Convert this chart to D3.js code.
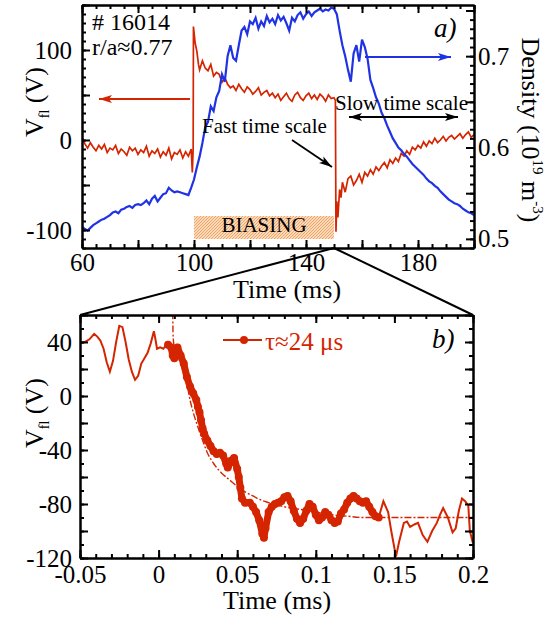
<!DOCTYPE html>
<html lang="en">
<head>
<meta charset="UTF-8">
<title>Floating potential and density during biasing</title>
<script src="https://d3js.org/d3.v7.min.js"></script>
<style>
  body { margin: 0; background: #fff; }
  svg text { font-family: "Liberation Serif", "Times New Roman", serif; fill: #000; }
  .axis path, .axis line { stroke: #000; stroke-width: 2; }
  .axis text { font-size: 25px; }
</style>
</head>
<body>
<div id="chart"></div>
<script>
// ---- data: panel a) (time in ms) ----
const vflSlow = [
  [60,3],[61,-4],[62,-9],[63,-3],[64,-8],[65,-12],[66,-6],[67,-10],[68,-5],[69,-14],
  [70,-9],[71,-11],[72,-6],[73,-15],[74,-10],[75,-13],[76,-17],[77,-8],[78,-12],[79,-9],
  [80,-16],[81,-11],[82,-14],[83,-7],[84,-18],[85,-12],[86,-15],[87,-10],[88,-19],[89,-13],
  [90,-17],[91,-9],[92,-21],[93,-14],[94,-16],[95,-11],[96,-20],[97,-13],[98,-18],[99,-10],
  [99.4,-36],[99.7,-10],[99.8,126],[100.4,108],[101,99],[101.6,84],[102,78],[103,88],[104,80],[105,77],
  [106,84],[107,71],[108,75],[109,73],[110,64],[111,69],[112,62],[113,58],[114,60],[115,55],
  [116,62],[117,57],[118,53],[119,59],[120,56],[121,51],[122,54],[123,58],[124,50],[125,53],
  [126,55],[127,49],[128,52],[129,47],[130,51],[131,44],[132,48],[133,52],[134,46],[135,43],
  [136,50],[137,53],[138,47],[139,44],[140,49],[141,52],[142,46],[143,50],[144,45],[145,51],
  [146,48],[147,43],[148,50],[149,46],[150,47],[150.5,44],[150.7,-102],[151,-68],[151.4,-86],[152,-55],
  [152.5,-64],[153,-47],[154,-58],[155,-43],[156,-40],[157,-50],[158,-45],[159,-38],[160,-47],[161,-36],
  [162,-40],[163,-33],[164,-38],[165,-30],[166,-34],[167,-29],[168,-25],[169,-31],[170,-22],[171,-26],
  [172,-20],[173,-24],[174,-15],[175,-18],[176,-12],[177,-16],[178,-8],[179,-11],[180,-6],[181,-9],
  [182,-2],[183,-7],[184,-1],[185,-4],[186,2],[187,-3],[188,0],[189,4],[190,-1],[191,3],
  [192,5],[193,1],[194,4],[195,7],[196,2],[197,6],[198,9],[199,3],[200,6]
];
const density = [
  [60,0.513],[61,0.511],[62,0.509],[63,0.512],[64,0.515],[65,0.517],[66,0.519],[67,0.521],[68,0.522],[69,0.524],
  [70,0.526],[71,0.529],[72,0.530],[73,0.528],[74,0.532],[75,0.533],[76,0.535],[77,0.536],[78,0.534],[79,0.537],
  [80,0.538],[81,0.537],[82,0.539],[83,0.542],[84,0.538],[85,0.544],[86,0.547],[87,0.541],[88,0.545],[89,0.549],
  [90,0.550],[91,0.556],[92,0.553],[93,0.551],[94,0.552],[95,0.551],[96,0.550],[97,0.549],[98,0.548],[99,0.556],
  [100,0.565],[101,0.578],[102,0.590],[103,0.605],[104,0.622],[105,0.628],[106,0.645],[107,0.640],[108,0.655],[109,0.662],
  [110,0.680],[111,0.672],[112,0.700],[113,0.712],[114,0.698],[115,0.695],[116,0.712],[117,0.728],[118,0.732],[119,0.724],
  [120,0.738],[121,0.735],[122,0.742],[123,0.730],[124,0.738],[125,0.733],[126,0.744],[127,0.737],[128,0.741],[129,0.735],
  [130,0.745],[131,0.739],[132,0.743],[133,0.736],[134,0.728],[135,0.742],[136,0.738],[137,0.745],[138,0.748],[139,0.741],
  [140,0.746],[141,0.749],[142,0.744],[143,0.748],[144,0.750],[145,0.752],[146,0.749],[147,0.751],[148,0.750],[149,0.753],
  [150,0.752],[151,0.746],[152,0.728],[153,0.712],[154,0.700],[155,0.685],[156,0.672],[157,0.703],[158,0.712],[159,0.694],
  [160,0.718],[161,0.710],[162,0.697],[163,0.674],[164,0.665],[165,0.655],[166,0.648],[167,0.638],[168,0.632],[169,0.624],
  [170,0.617],[171,0.610],[172,0.605],[173,0.600],[174,0.597],[175,0.593],[176,0.590],[177,0.586],[178,0.582],[179,0.579],
  [180,0.576],[181,0.573],[182,0.570],[183,0.566],[184,0.563],[185,0.561],[186,0.558],[187,0.556],[188,0.552],[189,0.549],
  [190,0.546],[191,0.543],[192,0.541],[193,0.539],[194,0.538],[195,0.536],[196,0.533],[197,0.531],[198,0.529],[199,0.528],
  [200,0.526]
];

// ---- data: panel b) (time in ms) ----
const vflBefore = [
  [-0.050,39],[-0.047,40],[-0.044,42],[-0.041,46],[-0.039,44],[-0.037,41],[-0.035,35],[-0.033,25],[-0.031,18],[-0.029,26],
  [-0.027,40],[-0.025,52],[-0.023,51],[-0.021,40],[-0.019,27],[-0.017,18],[-0.015,12],[-0.013,15],[-0.011,24],[-0.009,28],
  [-0.007,32],[-0.005,39],[-0.003,48],[-0.002,42],[-0.001,35],[0.001,36],[0.003,35],[0.005,38]
];
const vflMarked = [
  [0.006,38],[0.008,36],[0.009,30],[0.010,28],[0.011,34],[0.012,36],[0.014,30],[0.016,24],[0.018,14],[0.020,7],
  [0.022,2],[0.024,-3],[0.025,-8],[0.026,-12],[0.027,-18],[0.028,-24],[0.029,-28],[0.031,-33],[0.033,-37],[0.035,-41],
  [0.037,-43],[0.039,-42],[0.041,-44],[0.043,-50],[0.044,-53],[0.046,-48],[0.048,-46],[0.050,-54],[0.051,-60],[0.052,-68],
  [0.053,-76],[0.055,-79],[0.058,-79],[0.060,-82],[0.062,-86],[0.064,-92],[0.066,-102],[0.067,-105],[0.068,-98],[0.070,-86],
  [0.072,-82],[0.074,-80],[0.076,-79],[0.078,-78],[0.080,-75],[0.082,-74],[0.084,-78],[0.086,-85],[0.088,-91],[0.090,-94],
  [0.092,-91],[0.094,-85],[0.096,-80],[0.098,-82],[0.100,-88],[0.102,-92],[0.104,-90],[0.106,-86],[0.108,-88],[0.110,-92],
  [0.112,-94],[0.114,-93],[0.116,-87],[0.118,-84],[0.120,-79],[0.122,-76],[0.124,-74],[0.126,-76],[0.128,-78],[0.130,-79],
  [0.132,-78],[0.134,-82],[0.136,-86],[0.138,-89],[0.140,-90]
];
const vflAfter = [
  [0.143,-78],[0.146,-86],[0.148,-100],[0.151,-119],[0.153,-108],[0.156,-94],[0.158,-93],[0.160,-97],[0.163,-95],[0.165,-94],
  [0.168,-103],[0.171,-108],[0.174,-100],[0.177,-94],[0.179,-88],[0.181,-83],[0.184,-90],[0.187,-101],[0.189,-98],[0.191,-85],
  [0.193,-76],[0.195,-78],[0.197,-81],[0.198,-100],[0.200,-109]
];
const vflFit = [
  [0.0090,62],[0.0092,45],[0.010,36],[0.012,30],[0.014,24],[0.016,17],[0.018,9],[0.020,-3],[0.022,-12],[0.025,-23],
  [0.028,-33],[0.031,-42],[0.035,-50],[0.040,-57],[0.045,-62],[0.050,-67],[0.055,-71],[0.060,-74],[0.065,-77],[0.070,-79],
  [0.080,-82],[0.090,-84],[0.100,-86],[0.110,-88],[0.120,-89],[0.130,-90],[0.200,-90]
];

// tick labels
const xTopLabels = [60, 100, 140, 180];
const vflTopLabels = [-100, 0, 100];
const densLabels = [0.5, 0.6, 0.7];
const xBotLabels = [-0.05, 0, 0.05, 0.1, 0.15, 0.2];
const vflBotLabels = [-120, -80, -40, 0, 40];

const RED = "#d42500", BLUE = "#1f33e4";
const W = 556, H = 619;

const svg = d3.select("#chart").append("svg").attr("width", W).attr("height", H);

// scales
const xTop = d3.scaleLinear().domain([60, 200]).range([82, 474]);
const yTop = d3.scaleLinear().domain([-120, 150]).range([248, 5]);
const yDen = d3.scaleLinear().domain([0.49, 0.756]).range([248, 5]);
const xBot = d3.scaleLinear().domain([-0.05, 0.2]).range([80, 473]);
const yBot = d3.scaleLinear().domain([-120, 60]).range([558, 315]);

const has = (arr, d) => arr.some(v => Math.abs(v - d) < 1e-9);
const fmt = d => String(+d.toFixed(4));

function axis(fn, scale, at, minor, major, labels, size, pad) {
  const gMin = svg.append("g").attr("class", "axis").attr("transform", at);
  gMin.call(fn(scale).tickValues(minor).tickSize(-4).tickSizeOuter(0).tickFormat(""));
  const g = svg.append("g").attr("class", "axis").attr("transform", at);
  g.call(fn(scale).tickValues(major).tickSize(-size).tickSizeOuter(0).tickPadding(pad)
    .tickFormat(d => labels && has(labels, d) ? fmt(d) : ""));
  return g;
}

// ---- panel a) ----
svg.append("clipPath").attr("id", "clipA").append("rect")
  .attr("x", 82).attr("y", 5).attr("width", 392).attr("height", 243);

// biasing bar
const defs = svg.append("defs");
const pat = defs.append("pattern").attr("id", "hatch").attr("patternUnits", "userSpaceOnUse")
  .attr("width", 3).attr("height", 3);
pat.append("rect").attr("width", 3).attr("height", 3).attr("fill", "#fbd9bb");
pat.append("path").attr("d", "M0,3 L3,0").attr("stroke", "#f0a466").attr("stroke-width", 1);
svg.append("rect").attr("x", xTop(100)).attr("y", 216)
  .attr("width", xTop(150) - xTop(100)).attr("height", 23).attr("fill", "url(#hatch)");
svg.append("text").attr("x", (xTop(100) + xTop(150)) / 2).attr("y", 232)
  .attr("text-anchor", "middle").style("font-size", "21px").text("BIASING");

const lineTop = d3.line().x(d => xTop(d[0])).y(d => yTop(d[1]));
const lineDen = d3.line().x(d => xTop(d[0])).y(d => yDen(d[1]));
svg.append("path").datum(vflSlow).attr("clip-path", "url(#clipA)")
  .attr("fill", "none").attr("stroke", RED).attr("stroke-width", 1.7).attr("d", lineTop);
svg.append("path").datum(density).attr("clip-path", "url(#clipA)")
  .attr("fill", "none").attr("stroke", BLUE).attr("stroke-width", 2.2).attr("d", lineDen);

const xMajA = d3.range(60, 201, 20), xMinA = d3.range(60, 201, 5);
axis(d3.axisBottom, xTop, "translate(0,248)", xMinA, xMajA, xTopLabels, 8, 5);
axis(d3.axisTop, xTop, "translate(0,5)", xMinA, xMajA, null, 8, 0);
axis(d3.axisLeft, yTop, "translate(82,0)", d3.range(-120, 151, 10), d3.range(-100, 151, 50), vflTopLabels, 8, 10);
axis(d3.axisRight, yDen, "translate(474,0)", d3.range(49, 76).map(d => d / 100),
  [0.5, 0.55, 0.6, 0.65, 0.7, 0.75], densLabels, 8, 4);

// annotations a)
svg.append("text").attr("x", 92).attr("y", 30).style("font-size", "24px").text("# 16014");
svg.append("text").attr("x", 92).attr("y", 55).style("font-size", "24px").text("r/a\u22480.77");
svg.append("text").attr("x", 434).attr("y", 37).style("font-size", "27px").style("font-style", "italic").text("a)");
svg.append("text").attr("x", 335).attr("y", 110).style("font-size", "21px").text("Slow time scale");
svg.append("text").attr("x", 202).attr("y", 133).style("font-size", "21px").text("Fast time scale");

function arrowHead(x1, y1, x2, y2, color) {
  const a = Math.atan2(y2 - y1, x2 - x1), L = 13, w = 4;
  const bx = x2 - L * Math.cos(a), by = y2 - L * Math.sin(a);
  const nx = -Math.sin(a) * w, ny = Math.cos(a) * w;
  const mx = x2 - (L - 3) * Math.cos(a), my = y2 - (L - 3) * Math.sin(a);
  svg.append("path").attr("fill", color)
    .attr("d", `M${x2},${y2}L${bx + nx},${by + ny}L${mx},${my}L${bx - nx},${by - ny}Z`);
}
function arrow(x1, y1, x2, y2, color, both) {
  svg.append("line").attr("x1", x1).attr("y1", y1).attr("x2", x2).attr("y2", y2)
    .attr("stroke", color).attr("stroke-width", 1.8);
  arrowHead(x1, y1, x2, y2, color);
  if (both) arrowHead(x2, y2, x1, y1, color);
}
arrow(190, 99, 99, 99, RED);
arrow(365, 57, 451, 57, BLUE);
arrow(349, 117, 458, 117, "#000", true);
arrow(292, 140, 332, 167, "#000");

// axis titles a)
const vTitle = (x, y) => {
  const t = svg.append("text").attr("transform", `translate(${x},${y}) rotate(-90)`)
    .attr("text-anchor", "middle").style("font-size", "26px");
  t.append("tspan").text("V");
  t.append("tspan").attr("dy", 6).style("font-size", "14px").text("fl");
  t.append("tspan").attr("dy", -6).text(" (V)");
};
vTitle(43, 102);
svg.append("text").attr("x", 287).attr("y", 298).attr("text-anchor", "middle")
  .style("font-size", "26px").text("Time (ms)");
const dT = svg.append("text").attr("transform", "translate(522,130) rotate(90)")
  .attr("text-anchor", "middle").style("font-size", "26px");
dT.append("tspan").text("Density (10");
dT.append("tspan").attr("dy", -11).style("font-size", "15px").text("19");
dT.append("tspan").attr("dy", 11).text(" m");
dT.append("tspan").attr("dy", -11).style("font-size", "15px").text("-3");
dT.append("tspan").attr("dy", 11).text(")");

// zoom connector lines
svg.append("line").attr("x1", xTop(150)).attr("y1", 248).attr("x2", xBot(-0.05)).attr("y2", 315)
  .attr("stroke", "#000").attr("stroke-width", 2);
svg.append("line").attr("x1", xTop(150)).attr("y1", 248).attr("x2", xBot(0.2)).attr("y2", 315)
  .attr("stroke", "#000").attr("stroke-width", 2);

// ---- panel b) ----
svg.append("clipPath").attr("id", "clipB").append("rect")
  .attr("x", 80).attr("y", 315).attr("width", 393).attr("height", 243);
const lineBot = d3.line().x(d => xBot(d[0])).y(d => yBot(d[1]));
svg.append("path").datum(vflBefore.concat(vflMarked, vflAfter)).attr("clip-path", "url(#clipB)")
  .attr("fill", "none").attr("stroke", RED).attr("stroke-width", 2).attr("d", lineBot);
svg.append("path").datum(vflMarked).attr("fill", "none").attr("stroke", RED)
  .attr("stroke-width", 7).attr("stroke-linejoin", "round").attr("d", lineBot);
svg.append("g").selectAll("circle").data(vflMarked).join("circle")
  .attr("cx", d => xBot(d[0])).attr("cy", d => yBot(d[1])).attr("r", 4).attr("fill", RED);
svg.append("path").datum(vflFit).attr("clip-path", "url(#clipB)")
  .attr("fill", "none").attr("stroke", RED).attr("stroke-width", 1.4)
  .attr("stroke-dasharray", "7,2,2,2").attr("d", lineBot.curve(d3.curveMonotoneX));

const xMajB = d3.range(-5, 21, 5).map(d => d / 100), xMinB = d3.range(-5, 21).map(d => d / 100);
axis(d3.axisBottom, xBot, "translate(0,558)", xMinB, xMajB, xBotLabels, 8, 7);
axis(d3.axisTop, xBot, "translate(0,315)", xMinB, xMajB, null, 8, 0);
axis(d3.axisLeft, yBot, "translate(80,0)", d3.range(-120, 61, 10), d3.range(-120, 61, 20), vflBotLabels, 8, 8);
axis(d3.axisRight, yBot, "translate(473,0)", d3.range(-120, 61, 10), d3.range(-120, 61, 20), null, 8, 0);

// legend b)
svg.append("line").attr("x1", 223).attr("y1", 340).attr("x2", 262).attr("y2", 340)
  .attr("stroke", RED).attr("stroke-width", 2);
svg.append("circle").attr("cx", 244).attr("cy", 340).attr("r", 4).attr("fill", RED);
svg.append("text").attr("x", 265).attr("y", 350).style("font-size", "25px").style("fill", RED)
  .text("\u03c4\u224824 \u03bcs");
svg.append("text").attr("x", 432).attr("y", 348).style("font-size", "27px").style("font-style", "italic").text("b)");

vTitle(43, 413);
svg.append("text").attr("x", 277).attr("y", 609).attr("text-anchor", "middle")
  .style("font-size", "26px").text("Time (ms)");
</script>
</body>
</html>
